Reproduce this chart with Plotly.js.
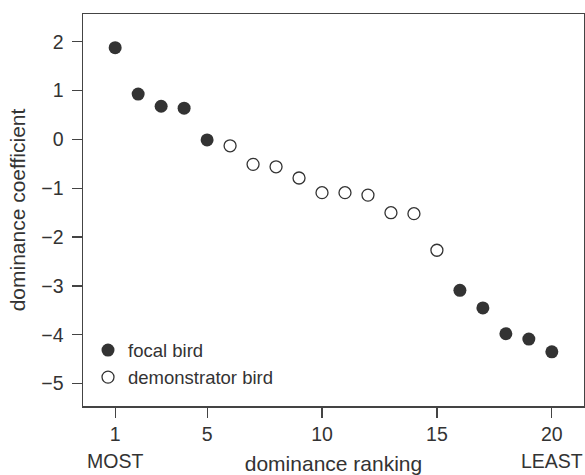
<!DOCTYPE html>
<html>
<head>
<meta charset="utf-8">
<script src="https://cdn.plot.ly/plotly-3.0.1.min.js"></script>
<style>html,body{margin:0;padding:0;background:#fff;}#chart{width:585px;height:475px;}</style>
</head>
<body>
<div id="chart"></div>
<script>
const focalRank = [1, 2, 3, 4, 5, 16, 17, 18, 19, 20];
const focalCoef = [1.88, 0.93, 0.68, 0.64, -0.01, -3.09, -3.45, -3.98, -4.09, -4.35];
const demoRank = [6, 7, 8, 9, 10, 11, 12, 13, 14, 15];
const demoCoef = [-0.13, -0.51, -0.56, -0.79, -1.09, -1.09, -1.14, -1.50, -1.52, -2.27];
const xTickVals = [1, 5, 10, 15, 20];
const yTickVals = [-5, -4, -3, -2, -1, 0, 1, 2];
const yTickText = ['\u22125', '\u22124', '\u22123', '\u22122', '\u22121', '0', '1', '2'];

const FONT = 'Liberation Sans, Arial, Helvetica, sans-serif';
const INK = '#333333';

const traces = [
  {
    x: focalRank, y: focalCoef, type: 'scatter', mode: 'markers', name: 'focal bird',
    marker: {size: 13, color: INK, line: {width: 0}}
  },
  {
    x: demoRank, y: demoCoef, type: 'scatter', mode: 'markers', name: 'demonstrator bird',
    marker: {size: 12, color: '#ffffff', line: {width: 1.3, color: INK}}
  }
];

const layout = {
  width: 585, height: 475,
  margin: {l: 83, r: 1, t: 14, b: 69},
  paper_bgcolor: '#ffffff', plot_bgcolor: '#ffffff',
  font: {family: FONT, color: INK, size: 19},
  showlegend: true,
  legend: {
    x: 0.01, y: 0.19, xanchor: 'left', yanchor: 'top',
    bgcolor: 'rgba(0,0,0,0)', borderwidth: 0,
    font: {family: FONT, size: 18.5, color: INK},
    tracegroupgap: 0, itemwidth: 30
  },
  xaxis: {
    range: [-0.4, 21.4], tickmode: 'array', tickvals: xTickVals,
    ticks: 'outside', ticklen: 10, tickwidth: 1.2, tickcolor: '#444',
    showline: true, linecolor: '#444', linewidth: 1.5, mirror: true,
    showgrid: false, zeroline: false,
    tickfont: {family: FONT, size: 19.5, color: INK},
    title: {text: 'dominance ranking', font: {family: FONT, size: 21, color: INK}, standoff: 21}
  },
  yaxis: {
    range: [-5.46, 2.57], tickmode: 'array', tickvals: yTickVals, ticktext: yTickText,
    ticks: 'outside', ticklen: 10, tickwidth: 1.2, tickcolor: '#444',
    showline: true, linecolor: '#444', linewidth: 1.5, mirror: true,
    showgrid: false, zeroline: false, ticklabelstandoff: 4,
    tickfont: {family: FONT, size: 19.5, color: INK},
    title: {text: 'dominance coefficient', font: {family: FONT, size: 21, color: INK}, standoff: 10}
  },
  annotations: [
    {x: 1, y: 0, xref: 'x', yref: 'paper', yshift: -55, text: 'MOST', showarrow: false,
     font: {family: FONT, size: 19.5, color: INK}, yanchor: 'middle'},
    {x: 20, y: 0, xref: 'x', yref: 'paper', yshift: -55, text: 'LEAST', showarrow: false,
     font: {family: FONT, size: 19.5, color: INK}, yanchor: 'middle'}
  ]
};

Plotly.newPlot('chart', traces, layout, {displayModeBar: false, staticPlot: true});
</script>
</body>
</html>
